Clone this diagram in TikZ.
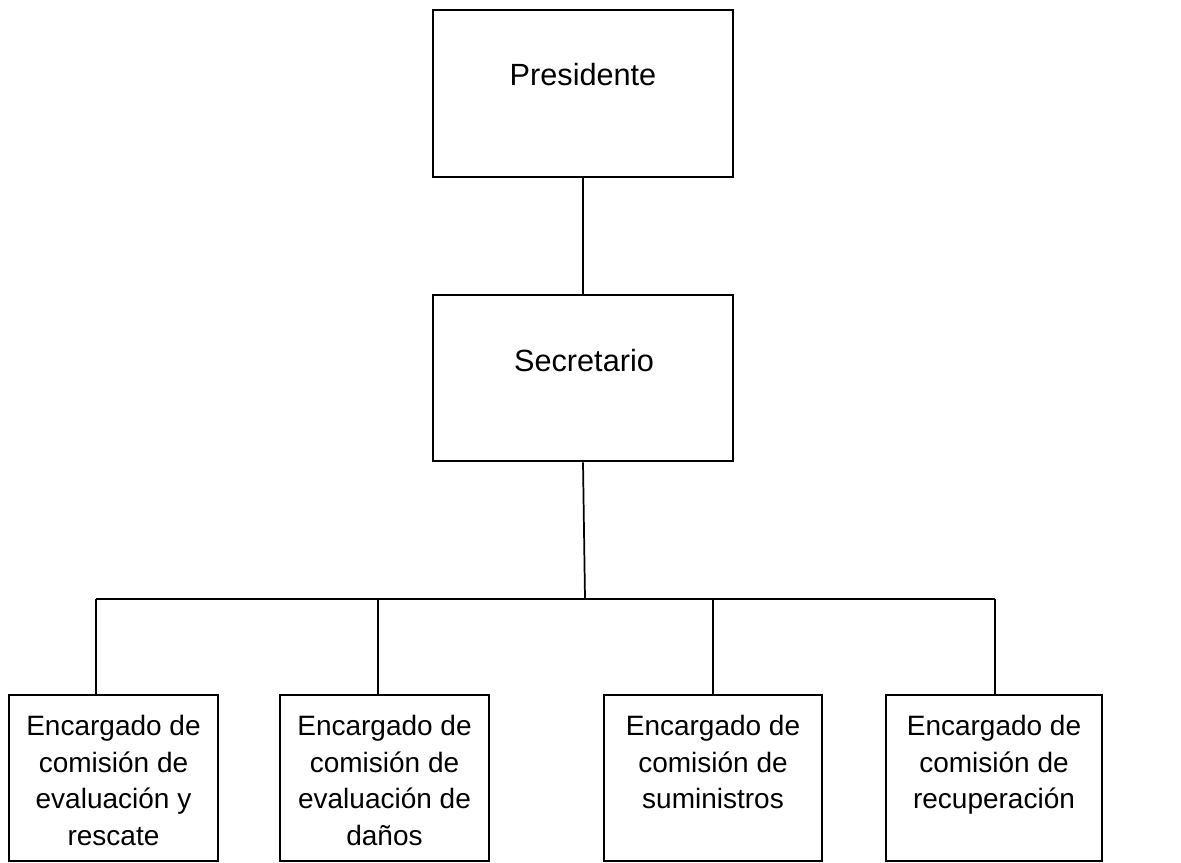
\documentclass[tikz,border=0pt]{standalone}
\usepackage{fontspec}
\setmainfont{Liberation Sans}
\usetikzlibrary{positioning}

\begin{document}
\begin{tikzpicture}[x=0.75pt,y=-0.75pt]
  % estilos
  \tikzset{caja/.style = {draw, line width=1.5pt, inner sep=0pt, minimum height=125pt}}
  \tikzset{jefe/.style = {caja, minimum width=225pt}}
  \tikzset{titulo/.style = {anchor=base, inner sep=0pt, font=\fontsize{23}{28}\selectfont}}
  \tikzset{texto/.style = {anchor=north, align=center, inner sep=0pt, font=\fontsize{21}{27.5}\selectfont}}
  \tikzset{linea/.style = {draw, line width=1.3pt}}

  \useasboundingbox (0,0) rectangle (1181,863);

  % cajas
  \node[jefe] (pres) at (583,93.5) {};
  \node[jefe] (secr) at (583,378) {};
  \node[caja, minimum width=156.75pt] (enc1) at (113.5,778) {};
  \node[caja, minimum width=156.75pt] (enc2) at (384.5,778) {};
  \node[caja, minimum width=163.5pt] (enc3) at (713,778) {};
  \node[caja, minimum width=162pt] (enc4) at (994,778) {};

  % textos
  \node[titulo] (tpres) at (583,86) {Presidente};
  \node[titulo] (tsecr) at (584,371) {Secretario};
  \node[texto] (tenc1) at (113.5,715) {Encargado de\\comisión de\\evaluación y\\rescate};
  \node[texto] (tenc2) at (384.5,715) {Encargado de\\comisión de\\evaluación de\\daños};
  \node[texto] (tenc3) at (713,715) {Encargado de\\comisión de\\suministros};
  \node[texto] (tenc4) at (994,715) {Encargado de\\comisión de\\recuperación};

  % puntos de la barra
  \coordinate (bus) at (585,599);
  \coordinate (r1) at (96,599);
  \coordinate (r2) at (378,599);
  \coordinate (r3) at (713,599);
  \coordinate (r4) at (995,599);

  % lineas
  \draw[linea] (pres) -- (secr);
  \draw[linea] (secr.south) -- (bus);
  \draw[linea] (r1) -- (r4);
  \draw[linea] (r1) -- (r1 |- enc1.north);
  \draw[linea] (r2) -- (r2 |- enc2.north);
  \draw[linea] (r3) -- (r3 |- enc3.north);
  \draw[linea] (r4) -- (r4 |- enc4.north);
\end{tikzpicture}
\end{document}
